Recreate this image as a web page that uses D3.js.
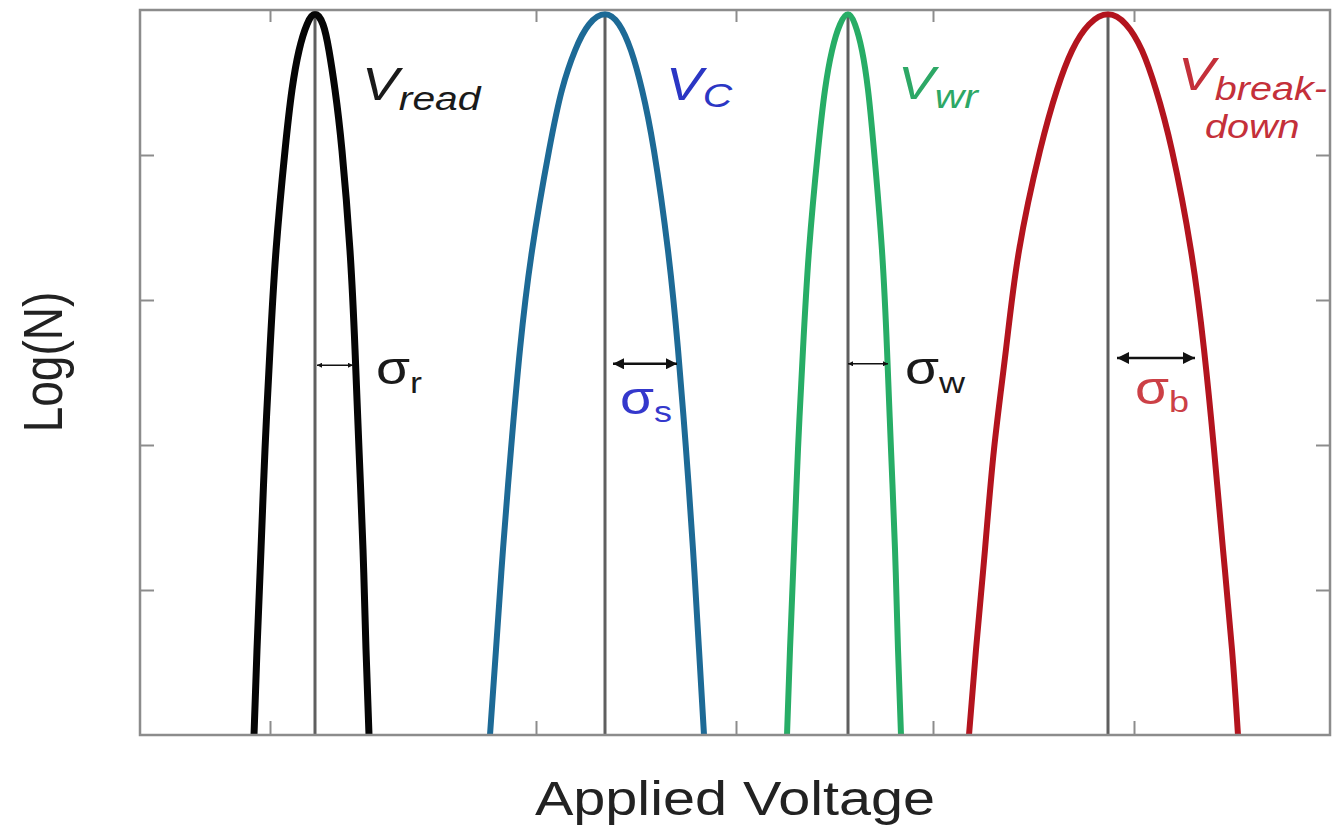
<!DOCTYPE html>
<html><head><meta charset="utf-8">
<script src="https://cdn.jsdelivr.net/npm/d3@7"></script>
<style>body{margin:0;background:#fff}svg{display:block}</style>
</head><body><svg id="c" width="1332" height="825"></svg>
<script>
// ---- data (arbitrary voltage units, log(N) units) ----
const logN = [0, 0.59, 1.28, 1.97, 2.66, 3.34, 4.03, 4.45, 4.72, 4.90, 4.97, 4.90, 4.72, 4.45, 4.03, 3.34, 2.66, 1.97, 1.28, 0.59, 0];
const readV  = [1.14, 1.17, 1.21, 1.25, 1.30, 1.36, 1.45, 1.52, 1.59, 1.67, 1.75, 1.83, 1.89, 1.95, 2.02, 2.10, 2.15, 2.19, 2.23, 2.26, 2.29];
const capV   = [3.50, 3.56, 3.63, 3.71, 3.80, 3.92, 4.09, 4.22, 4.35, 4.49, 4.65, 4.79, 4.91, 5.02, 5.14, 5.28, 5.38, 5.46, 5.53, 5.59, 5.64];
const writeV = [6.47, 6.50, 6.54, 6.58, 6.63, 6.69, 6.78, 6.85, 6.92, 7.00, 7.08, 7.15, 7.22, 7.28, 7.34, 7.42, 7.47, 7.51, 7.55, 7.58, 7.61];
const breakV = [8.29, 8.36, 8.45, 8.54, 8.66, 8.79, 9.00, 9.17, 9.32, 9.49, 9.68, 9.86, 10.02, 10.16, 10.32, 10.51, 10.64, 10.74, 10.83, 10.92, 10.98];
const seriesNames = ["V_read", "V_C", "V_wr", "V_breakdown"];
const centers = [1.75, 4.65, 7.08, 9.68];
const peakLogN = 4.97;
const sigmaStart = [1.77, 4.73, 7.08, 9.77];
const sigmaEnd   = [2.13, 5.37, 7.48, 10.55];
const sigmaLevel = [2.55, 2.56, 2.56, 2.60];
const xTicks = [1.3, 3.96, 5.96, 7.93, 9.94];
const yTicks = [1, 2, 3, 4];
const xDomain = [0, 11.9];
const yDomain = [0, 5];

// ---- styles ----
const curveColors = ["#050505", "#1d6a96", "#27ad66", "#b3141e"];
const FONT = "'Liberation Sans', Arial, sans-serif";
const SX = 1.2; // horizontal stretch of the source image

const svg = d3.select("#c");
svg.append("rect").attr("width", 1332).attr("height", 825).attr("fill", "#fff");

const x = d3.scaleLinear().domain(xDomain).range([140, 1330]);
const y = d3.scaleLinear().domain(yDomain).range([735, 10]);

svg.append("clipPath").attr("id", "plot").append("rect")
  .attr("x", 140).attr("y", 0).attr("width", 1190).attr("height", 735);

// axes (ticks pointing inward)
const axCol = "#8c8c8c";
function styleAxis(g) {
  g.select(".domain").remove();
  g.selectAll(".tick line").attr("stroke", axCol).attr("stroke-width", 2);
  g.selectAll(".tick text").remove();
}
svg.append("g").attr("transform", `translate(0,${y(0)})`)
  .call(d3.axisBottom(x).tickValues(xTicks).tickSize(-14).tickFormat("")).call(styleAxis);
svg.append("g").attr("transform", `translate(0,${y(5)})`)
  .call(d3.axisTop(x).tickValues(xTicks).tickSize(-12).tickFormat("")).call(styleAxis);
svg.append("g").attr("transform", `translate(${x(0)},0)`)
  .call(d3.axisLeft(y).tickValues(yTicks).tickSize(-14).tickFormat("")).call(styleAxis);
svg.append("g").attr("transform", `translate(${x(11.9)},0)`)
  .call(d3.axisRight(y).tickValues(yTicks).tickSize(-14).tickFormat("")).call(styleAxis);

// center lines
svg.append("g").selectAll("line").data(centers).join("line")
  .attr("x1", d => x(d)).attr("x2", d => x(d))
  .attr("y1", y(0)).attr("y2", y(peakLogN))
  .attr("stroke", "#5f5f5f").attr("stroke-width", 3);

// curves
const allSeries = [readV, capV, writeV, breakV];
const line = d3.line().x(d => x(d[0])).y(d => y(d[1])).curve(d3.curveNatural);
svg.append("g").attr("clip-path", "url(#plot)").selectAll("path").data(allSeries).join("path")
  .attr("d", s => line(s.map((v, i) => [v, logN[i]])))
  .attr("fill", "none")
  .attr("stroke", (s, i) => curveColors[i])
  .attr("stroke-width", (s, i) => i === 0 ? 7 : 6)
  .attr("stroke-linejoin", "round");

// frame
svg.append("rect").attr("x", x(0)).attr("y", y(5)).attr("width", x(11.9) - x(0)).attr("height", y(0) - y(5))
  .attr("fill", "none").attr("stroke", axCol).attr("stroke-width", 2.5);

// sigma arrows
const defs = svg.append("defs");
const headSizes = [5, 11, 5, 12];
headSizes.forEach((h, i) => {
  ["s", "e"].forEach(k => {
    defs.append("marker").attr("id", `m${k}${i}`)
      .attr("viewBox", "0 0 10 10").attr("refX", 10).attr("refY", 5)
      .attr("markerUnits", "userSpaceOnUse")
      .attr("markerWidth", h * 1.2).attr("markerHeight", h)
      .attr("orient", k === "e" ? "auto" : "auto-start-reverse")
      .append("path").attr("d", "M0,0 L10,5 L0,10 z").attr("fill", "#111");
  });
});
svg.append("g").selectAll("line").data(sigmaStart).join("line")
  .attr("x1", (d, i) => x(d)).attr("x2", (d, i) => x(sigmaEnd[i]))
  .attr("y1", (d, i) => y(sigmaLevel[i])).attr("y2", (d, i) => y(sigmaLevel[i]))
  .attr("stroke", "#111").attr("stroke-width", (d, i) => headSizes[i] > 8 ? 2.5 : 1.5)
  .attr("marker-start", (d, i) => `url(#ms${i})`)
  .attr("marker-end", (d, i) => `url(#me${i})`);

// text helper
function label(px, py, parts, color, opts = {}) {
  const g = svg.append("g").attr("transform", `translate(${px},${py}) scale(${SX},1)` + (opts.rotate ? ` rotate(${opts.rotate})` : ""));
  const t = g.append("text").attr("font-family", FONT).attr("fill", color)
    .attr("text-anchor", opts.anchor || "start");
  parts.forEach(p => {
    t.append("tspan").text(p.t).attr("font-size", p.size)
      .attr("font-style", p.italic ? "italic" : "normal")
      .attr("dy", p.dy || 0);
  });
  return t;
}

// distribution labels
label(362, 100, [{t: "V", size: 46, italic: true}, {t: "read", size: 34, italic: true, dy: 10}], "#1a1a1a");
label(666, 100, [{t: "V", size: 46, italic: true}, {t: "C", size: 34, italic: true, dy: 7}], "#2b36c4");
label(898, 99, [{t: "V", size: 46, italic: true}, {t: "wr", size: 34, italic: true, dy: 9}], "#2da866");
label(1178, 90, [{t: "V", size: 46, italic: true}, {t: "break-", size: 33, italic: true, dy: 10}], "#c4303a");
label(1205, 138, [{t: "down", size: 33, italic: true}], "#c4303a");

// sigma labels
label(376, 384, [{t: "σ", size: 46}, {t: "r", size: 30, dy: 9}], "#1a1a1a");
label(620, 414, [{t: "σ", size: 46}, {t: "s", size: 30, dy: 8}], "#3438cc");
label(905, 384, [{t: "σ", size: 46}, {t: "w", size: 30, dy: 9}], "#1a1a1a");
label(1135, 404, [{t: "σ", size: 46}, {t: "b", size: 30, dy: 8}], "#cc4046");

// axis titles
label(735, 815, [{t: "Applied Voltage", size: 48}], "#222", {anchor: "middle"});
label(62, 362, [{t: "Log(N)", size: 46}], "#222", {anchor: "middle", rotate: -90});
</script></body></html>
